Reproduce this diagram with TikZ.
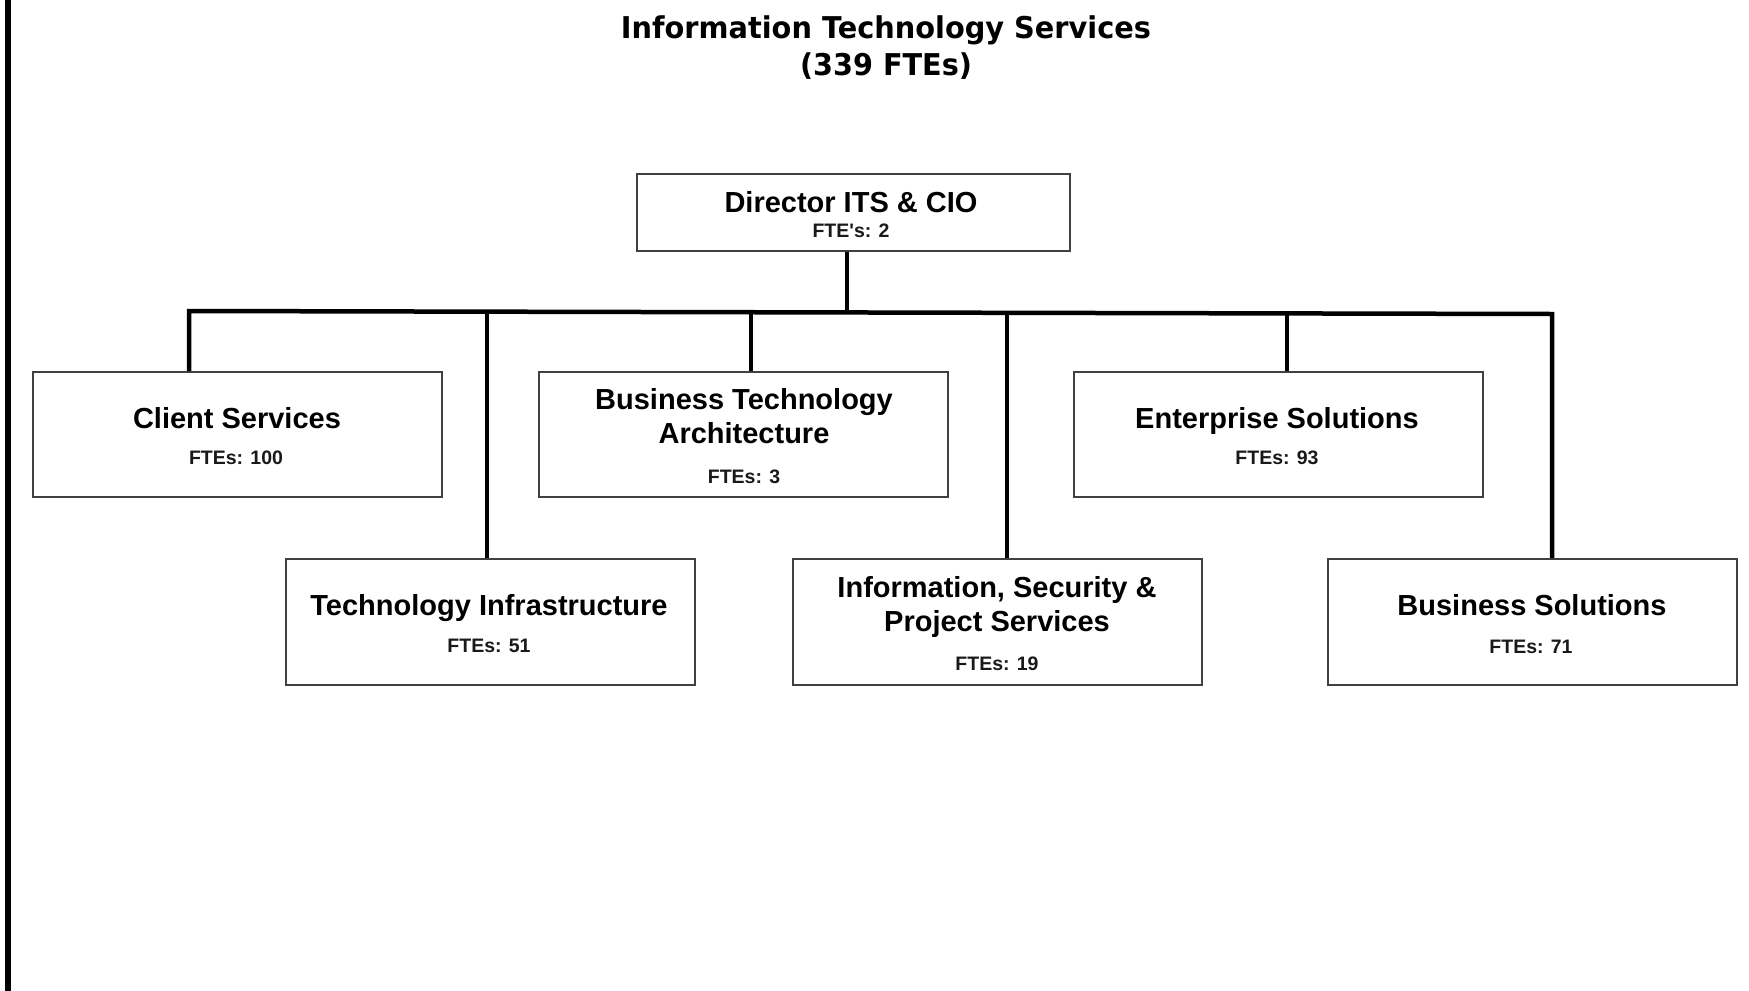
\documentclass[tikz,border=0pt]{standalone}
\usepackage{fontspec}
\usepackage{graphicx}
\newfontfamily\arialfont{Liberation Sans}
\newfontfamily\tahomafont{DejaVu Sans}
\begin{document}
\begin{tikzpicture}[x=1pt,y=-1pt,
  box/.style={draw=black!75, line width=2pt, inner sep=0pt, minimum width=409pt, minimum height=126pt},
  conn/.style={line width=4.5pt, draw=black, line join=miter},
  ttl/.style={font=\arialfont\bfseries\fontsize{29}{34}\selectfont, anchor=base, inner sep=0pt},
  fte/.style={font=\arialfont\bfseries\fontsize{19.5}{22}\selectfont, anchor=base, inner sep=0pt, text=black!90},
  head/.style={font=\tahomafont\bfseries\fontsize{30}{36}\selectfont, anchor=base, inner sep=0pt}]
\useasboundingbox (0,0) rectangle (1749,991);
\fill[white] (0,0) rectangle (1749,991);
% left border
\draw[line width=6pt] (8,0) -- (8,991);

% heading
\node[head] (title1) at (886,38) {\resizebox{530pt}{\height}{Information Technology Services}};
\node[head] (title2) at (886,75) {\resizebox{172pt}{\height}{(339 FTEs)}};

% boxes
\node[box, minimum width=433pt, minimum height=77pt] (dir) at (853.5,212.5) {};
\node[box, minimum height=125pt] (cs) at (237.5,434.5) {};
\node[box, minimum height=125pt] (bta) at (743.5,434.5) {};
\node[box, minimum height=125pt] (es) at (1278.5,434.5) {};
\node[box] (ti) at (490.5,622) {};
\node[box] (isps) at (997,622) {};
\node[box] (bs) at (1532,622) {};

% texts
\node[ttl] (dirt) at (851,212) {Director ITS \& CIO};
\node[fte] (dirf) at (851,237) {FTE\textquotesingle s: 2};

\node[ttl] (cst) at (237,428) {Client Services};
\node[fte] (csf) at (236,464) {FTEs: 100};

\node[ttl] (btat1) at (744,409) {Business Technology};
\node[ttl] (btat2) at (744,443) {Architecture};
\node[fte] (btaf) at (744,483) {FTEs: 3};

\node[ttl] (est) at (1277,428) {Enterprise Solutions};
\node[fte] (esf) at (1277,464) {FTEs: 93};

\node[ttl] (tit) at (489,615) {Technology Infrastructure};
\node[fte] (tif) at (489,652) {FTEs: 51};

\node[ttl] (ispst1) at (997,597) {Information, Security \&};
\node[ttl] (ispst2) at (997,631) {Project Services};
\node[fte] (ispsf) at (997,670) {FTEs: 19};

\node[ttl] (bst) at (1532,615) {Business Solutions};
\node[fte] (bsf) at (1531,653) {FTEs: 71};

% connector bus
\coordinate (busL) at (189,311);
\coordinate (busR) at (1552,314);
\coordinate (tDir) at (847,312);
\coordinate (tTI) at (487,312);
\coordinate (tBTA) at (751,312);
\coordinate (tISPS) at (1007,313);
\coordinate (tES) at (1287,313);

\draw[conn] (busL |- cs.north) -- (busL) -- (busR) -- (busR |- bs.north);
\draw[conn] (tDir |- dir.south) -- (tDir);
\draw[conn] (tTI) -- (tTI |- ti.north);
\draw[conn] (tBTA) -- (tBTA |- bta.north);
\draw[conn] (tISPS) -- (tISPS |- isps.north);
\draw[conn] (tES) -- (tES |- es.north);
\end{tikzpicture}
\end{document}
